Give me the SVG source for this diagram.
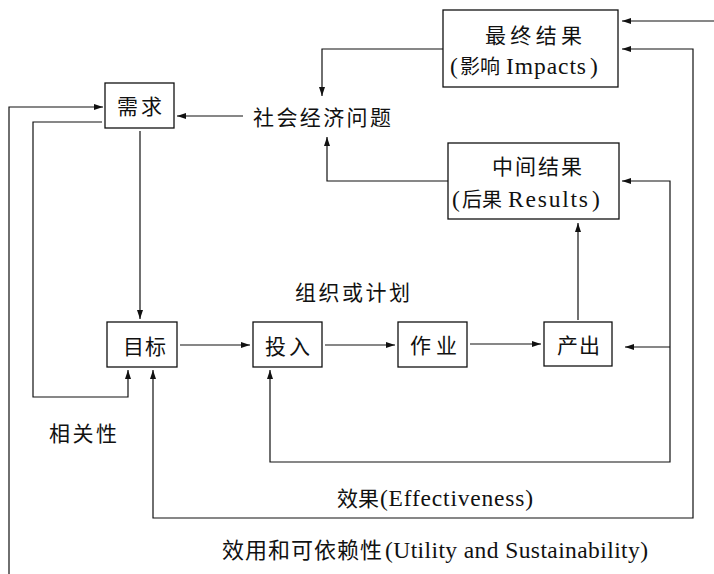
<svg xmlns="http://www.w3.org/2000/svg" width="714" height="574" viewBox="0 0 714 574">
<style>
.box{fill:#fff;stroke:#111;stroke-width:1.3}
.t{font-family:"Liberation Serif","Noto Sans CJK SC",serif;font-size:21px;fill:#111}
.l{font-family:"Liberation Serif",serif;font-size:23.5px}
.c{fill:none;stroke:#111;stroke-width:1.2}
</style>
<defs>
<marker id="a" markerUnits="userSpaceOnUse" markerWidth="10" markerHeight="8" refX="9" refY="4" orient="auto-start-reverse">
<path d="M0,1 L9,4 L0,7 z" fill="#111"/>
</marker>
</defs>
<rect width="714" height="574" fill="#fff"/>
<g id="connectors">
<path class="c" d="M9,574 V107 H103" marker-end="url(#a)"/>
<path class="c" d="M102,122 H33 V397 H128 V370" marker-end="url(#a)"/>
<path class="c" d="M140,131 V319" marker-end="url(#a)"/>
<path class="c" d="M180,345 H250" marker-end="url(#a)"/>
<path class="c" d="M325,345 H395" marker-end="url(#a)"/>
<path class="c" d="M470,344 H541" marker-end="url(#a)"/>
<path class="c" d="M578,320 V223" marker-end="url(#a)"/>
<path class="c" d="M448,181 H327 V137" marker-end="url(#a)"/>
<path class="c" d="M443,49 H322 V96" marker-end="url(#a)"/>
<path class="c" d="M243,116 H177" marker-end="url(#a)"/>
<path class="c" d="M714,21 H622" marker-end="url(#a)"/>
<path class="c" d="M622,49 H693 V518 H153 V370" marker-start="url(#a)" marker-end="url(#a)"/>
<path class="c" d="M622,181 H670 V462 H270 V370" marker-start="url(#a)" marker-end="url(#a)"/>
<path class="c" d="M670,347 H625" marker-end="url(#a)"/>
</g>
<g id="n-xuqiu"><rect class="box" x="105" y="83" width="69" height="45"/><text class="t" x="117" y="114" textLength="45">需求</text></g>
<g id="n-shehui"><text class="t" x="253" y="125" textLength="138">社会经济问题</text></g>
<g id="n-zuizhong"><rect class="box" x="443" y="10" width="175" height="77"/><text class="t" x="485" y="43" textLength="97">最终结果</text><text class="t" y="74"><tspan class="l" x="450">(</tspan><tspan x="460" font-size="20">影响 </tspan><tspan class="l" x="506" textLength="80">Impacts</tspan><tspan class="l" x="590">)</tspan></text></g>
<g id="n-zhongjian"><rect class="box" x="448" y="143" width="171" height="76"/><text class="t" x="492" y="174" textLength="90">中间结果</text><text class="t" y="207"><tspan class="l" x="452">(</tspan><tspan x="462" font-size="20">后果 </tspan><tspan class="l" x="508" textLength="80">Results</tspan><tspan class="l" x="592">)</tspan></text></g>
<g id="n-mubiao"><rect class="box" x="107" y="322" width="70" height="45"/><text class="t" x="123" y="354" textLength="43">目标</text></g>
<g id="n-touru"><rect class="box" x="253" y="322" width="69" height="45"/><text class="t" x="265" y="354" textLength="45">投入</text></g>
<g id="n-zuoye"><rect class="box" x="398" y="322" width="69" height="45"/><text class="t" x="410" y="353" textLength="47">作业</text></g>
<g id="n-chanchu"><rect class="box" x="544" y="322" width="68" height="44"/><text class="t" x="557" y="353" textLength="43">产出</text></g>
<g id="labels">
<text class="t" x="295" y="300" textLength="115">组织或计划</text>
<text class="t" x="49" y="441" textLength="68">相关性</text>
<text class="t" y="506"><tspan x="337" textLength="42">效果</tspan><tspan class="l" x="380" textLength="153">(Effectiveness)</tspan></text>
<text class="t" y="558"><tspan x="222" textLength="160" font-size="22">效用和可依赖性</tspan><tspan class="l" x="385" textLength="263">(Utility and Sustainability)</tspan></text>
</g>
</svg>
